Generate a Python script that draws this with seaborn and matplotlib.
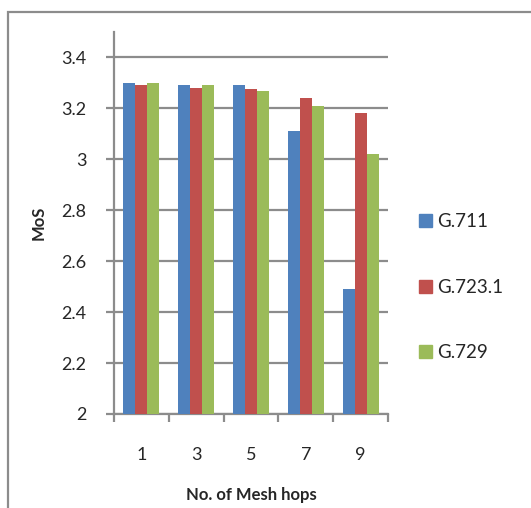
import matplotlib
matplotlib.use("Agg")
import matplotlib.pyplot as plt
import matplotlib.patches as mpatches
import seaborn as sns
import pandas as pd
import numpy as np

hops = ["1", "3", "5", "7", "9"]
codecs = ["G.711", "G.723.1", "G.729"]
g711 = [3.30, 3.29, 3.29, 3.11, 2.49]
g7231 = [3.29, 3.28, 3.275, 3.24, 3.18]
g729 = [3.30, 3.29, 3.27, 3.21, 3.02]
colors = ["#4F81BD", "#C0504D", "#9BBB59"]

df = pd.DataFrame({
    "hops": hops * 3,
    "codec": [c for c in codecs for _ in hops],
    "mos": g711 + g7231 + g729,
})

sns.set_theme(style="white")
plt.rcParams["font.family"] = ["Lato", "DejaVu Sans"]

W, H = 531, 508
fig = plt.figure(figsize=(W / 100, H / 100), dpi=100)
ax = fig.add_axes([114 / W, 1 - 414 / H, 274 / W, (414 - 32) / H])

sns.barplot(data=df, x="hops", y="mos", hue="codec", order=hops,
            hue_order=codecs, palette=colors, width=0.66, saturation=1,
            edgecolor="none", ax=ax, legend=False, zorder=3)

ax.set_ylim(2, 3.5)
ax.set_xlim(-0.5, 4.5)
ax.set_yticks(np.arange(2.0, 3.41, 0.2))
ax.set_yticklabels(["2", "2.2", "2.4", "2.6", "2.8", "3", "3.2", "3.4"])
ax.yaxis.grid(True, color="#8c8c8c", linewidth=1.6, zorder=0)
ax.set_axisbelow(True)

for s in ["top", "right"]:
    ax.spines[s].set_visible(False)
for s in ["left", "bottom"]:
    ax.spines[s].set_color("#8c8c8c")
    ax.spines[s].set_linewidth(1.6)

ax.tick_params(axis="y", direction="out", length=6, width=1.6, color="#8c8c8c",
               labelsize=13, pad=14, left=True)
ax.set_xticks(np.arange(-0.5, 4.6, 1.0), minor=True)
ax.tick_params(axis="x", which="minor", direction="out", length=6, width=1.6,
               color="#8c8c8c", bottom=True)
ax.tick_params(axis="x", which="major", length=0, labelsize=13, pad=24)

ax.set_xlabel("No. of Mesh hops", fontsize=12, fontweight="bold", labelpad=17)
ax.set_ylabel("MoS", fontsize=12, fontweight="bold", labelpad=10)

handles = [mpatches.Patch(color=c, label=l) for c, l in zip(colors, codecs)]
fig.legend(handles=handles, loc="upper left", bbox_to_anchor=(402 / W, 1 - 196 / H),
           frameon=False, fontsize=13.5, handlelength=0.7, handleheight=0.7,
           handletextpad=0.3, labelspacing=2.6)

fig.add_artist(mpatches.Rectangle((8 / W, -0.1), 1.2, (H - 12) / H + 0.1,
                                  transform=fig.transFigure, fill=False,
                                  edgecolor="#8c8c8c", linewidth=1.6))

fig.savefig("out.png", dpi=100)
